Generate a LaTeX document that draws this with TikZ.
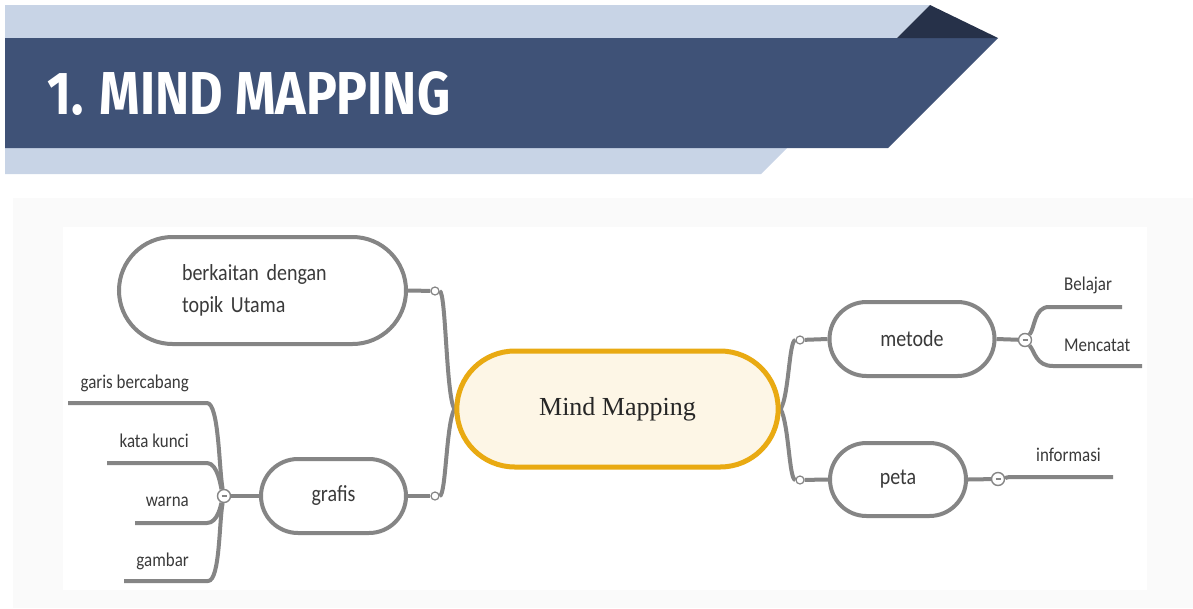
\documentclass[tikz,border=0pt]{standalone}
\usepackage{fontspec}
\setmainfont{Carlito}[FakeStretch=0.87]
\newfontfamily\titlefont{Fira Sans}
\newfontfamily\centerfont{Liberation Serif}
\usetikzlibrary{shapes.misc,backgrounds}
\definecolor{lightband}{HTML}{C8D4E6}
\definecolor{darkband}{HTML}{3F5277}
\definecolor{darktri}{HTML}{263149}
\definecolor{panel}{HTML}{FAFAFA}
\definecolor{lgray}{HTML}{858585}
\definecolor{txt}{HTML}{3A3A3A}
\definecolor{gold}{HTML}{E9AA12}
\definecolor{cream}{HTML}{FDF6E6}
\newcommand{\minusmark}{\textcolor{lgray}{\rule[-0.7pt]{5pt}{1.4pt}}}
\tikzset{
  branch/.style={rounded rectangle, draw=lgray, line width=4pt, fill=white, text=txt,
    font=\fontsize{23}{32}\selectfont, inner sep=0pt},
  conn/.style={draw=lgray, line width=4pt},
  jdot/.style={circle, draw=lgray, fill=white, line width=1.2pt, minimum size=8pt, inner sep=0pt},
  mdot/.style={circle, draw=lgray, fill=white, line width=1.4pt, minimum size=13pt, inner sep=0pt,
    font=\fontsize{6}{6}\selectfont},
  leaf/.style={text=txt, font=\fontsize{19.5}{22}\selectfont, inner sep=0pt}
}
\begin{document}
\begin{tikzpicture}[x=1pt,y=-1pt]
\useasboundingbox (0,0) rectangle (1193,608);
\begin{scope}[on background layer]
  % header
  \fill[lightband] (5,5) -- (930,5) -- (761,174) -- (5,174) -- cycle;
  \fill[darkband] (5,38) -- (998,38) -- (888,148) -- (5,148) -- cycle;
  \fill[darktri] (930,5) -- (998,38) -- (897,38) -- cycle;
  % panels
  \fill[panel] (13,198) rectangle (1193,608);
  \fill[white] (63,227) rectangle (1147,590);
\end{scope}
\node[anchor=south west, inner sep=0pt, text=white] (title) at (47,116)
  {\resizebox{403pt}{43pt}{\titlefont\bfseries 1. MIND MAPPING}};

% main nodes
\node[rounded rectangle, draw=gold, fill=cream, line width=5pt, minimum width=328pt,
  minimum height=116pt, font=\centerfont\fontsize{26}{30}\selectfont, text=black!85]
  (center) at (617.5,409) {Mind Mapping};
\node[branch, minimum width=287pt, minimum height=107pt, text width=161pt, align=left]
  (berk) at (262.5,290.5) {berkaitan dengan\\topik Utama};
\node[branch, minimum width=145pt, minimum height=74pt] (grafis) at (333.5,496) {grafis};
\node[branch, minimum width=165pt, minimum height=74pt] (metode) at (912,339) {metode};
\node[branch, minimum width=136pt, minimum height=73pt] (peta) at (898,479.5) {peta};

% joints
\node[jdot] (dL1) at (435,291) {};
\node[jdot] (dL2) at (435,496) {};
\node[jdot] (dR1) at (800,340) {};
\node[jdot] (dR2) at (800,480) {};
\node[mdot] (mL) at (224,496) {\minusmark};
\node[mdot] (mR1) at (1025,340) {\minusmark};
\node[mdot] (mR2) at (998,479) {\minusmark};

% leaf labels
\node[leaf, anchor=east] (garis) at (189,383) {garis bercabang};
\node[leaf, anchor=east] (kata) at (189,441) {kata kunci};
\node[leaf, anchor=east] (warna) at (189,502) {warna};
\node[leaf, anchor=east] (gambar) at (189,561) {gambar};
\node[leaf, anchor=west] (belajar) at (1064,285) {Belajar};
\node[leaf, anchor=west] (mencatat) at (1064,345) {Mencatat};
\node[leaf, anchor=west] (informasi) at (1036,455) {informasi};

% leaf line ends
\coordinate (g1a) at (68,403);  \coordinate (g1b) at (207,403);
\coordinate (g2a) at (107,463); \coordinate (g2b) at (207,463);
\coordinate (g3a) at (135,523); \coordinate (g3b) at (207,523);
\coordinate (g4a) at (124,581); \coordinate (g4b) at (208,581);
\coordinate (b1a) at (1049,307); \coordinate (b1b) at (1122,307);
\coordinate (c1a) at (1053,366); \coordinate (c1b) at (1142,366);
\coordinate (i1a) at (1012,477); \coordinate (i1b) at (1113,477);

\begin{scope}[on background layer]
  \draw[conn] (center.west) .. controls (446,395) and (446,291) .. (dL1);
  \draw[conn] (center.west) .. controls (446,425) and (446,496) .. (dL2);
  \draw[conn] (center.east) .. controls (789,395) and (789,340) .. (dR1);
  \draw[conn] (center.east) .. controls (789,425) and (789,480) .. (dR2);
  \draw[conn] (berk.east) -- (dL1);
  \draw[conn] (grafis.east) -- (dL2);
  \draw[conn] (dR1) -- (metode.west);
  \draw[conn] (dR2) -- (peta.west);
  \draw[conn] (grafis.west) -- (mL);
  \draw[conn] (metode.east) -- (mR1);
  \draw[conn] (peta.east) -- (mR2);
  \draw[conn, line join=round] (g1a) -- (g1b) .. controls (219,403) and (219,470) .. (mL);
  \draw[conn, line join=round] (g2a) -- (g2b) .. controls (218,463) and (221,488) .. (mL);
  \draw[conn, line join=round] (g3a) -- (g3b) .. controls (218,523) and (221,504) .. (mL);
  \draw[conn, line join=round] (g4a) -- (g4b) .. controls (220,581) and (219,522) .. (mL);
  \draw[conn, line join=round] (mR1) .. controls (1035,328) and (1034,307) .. (b1a) -- (b1b);
  \draw[conn, line join=round] (mR1) .. controls (1035,352) and (1036,366) .. (c1a) -- (c1b);
  \draw[conn, line join=round] (mR2) .. controls (1005,479) and (1004,477) .. (i1a) -- (i1b);
\end{scope}
\end{tikzpicture}
\end{document}
